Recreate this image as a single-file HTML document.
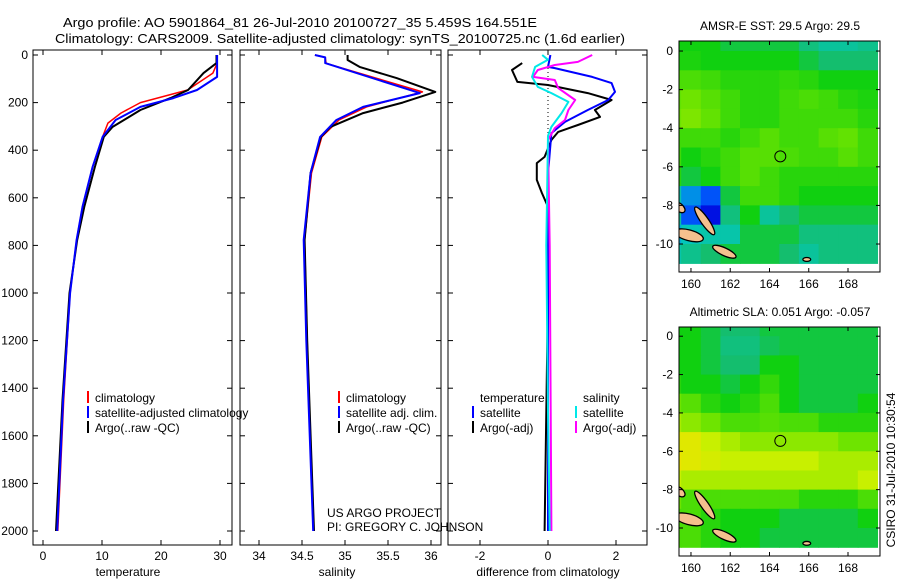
<!DOCTYPE html>
<html><head><meta charset="utf-8">
<style>
html,body{margin:0;padding:0;background:#fff;}
svg{display:block;font-family:"Liberation Sans",sans-serif;}
text{font-size:12px;fill:#000;}
</style></head>
<body>
<svg id="chart" width="900" height="580" viewBox="0 0 900 580" xmlns="http://www.w3.org/2000/svg">
<text x="300" y="27" text-anchor="middle" textLength="474" lengthAdjust="spacingAndGlyphs" style="font-size:13px">Argo profile: AO 5901864_81 26-Jul-2010 20100727_35 5.459S 164.551E</text>
<text x="340" y="43" text-anchor="middle" textLength="570" lengthAdjust="spacingAndGlyphs" style="font-size:13px">Climatology: CARS2009. Satellite-adjusted climatology: synTS_20100725.nc (1.6d earlier)</text>
<g id="plots"></g>
<text x="780" y="30" text-anchor="middle">AMSR-E SST: 29.5 Argo: 29.5</text>
<text x="780" y="316" text-anchor="middle">Altimetric SLA: 0.051 Argo: -0.057</text>
<text transform="translate(895,470) rotate(-90)" text-anchor="middle">CSIRO 31-Jul-2010 10:30:54</text>
<text x="327" y="517">US ARGO PROJECT</text>
<text x="327" y="531">PI: GREGORY C. JOHNSON</text>
</svg>
<script>
// ---------- profile data ----------
const tClimDepth = [0,35,76,147,200,244,286,344,470,638,777,1000,1450,2000];
const tClimVal   = [29.5,29.5,28.8,24.5,16.5,13.2,11,10.1,8.4,6.7,5.7,4.6,3.5,2.5];
const tSatDepth  = [0,92,147,181,218,273,344,470,638,777,1000,1450,2000];
const tSatVal    = [29.5,29.5,26.1,22.1,16.5,12.3,10.1,8.4,6.7,5.7,4.6,3.4,2.4];
const tArgoDepth = [0,34,76,147,181,231,302,344,470,638,777,1000,1450,2000];
const tArgoVal   = [29.4,29.4,27.2,24.6,21.6,16.5,11.8,10.3,8.8,7.0,5.8,4.5,3.3,2.2];

const sClimDepth = [0,10,35,155,218,273,344,496,777,1200,2000];
const sClimVal   = [34.65,34.77,34.78,35.9,35.25,34.93,34.73,34.61,34.53,34.56,34.63];
const sSatDepth  = [0,10,34,160,218,273,344,496,777,1200,2000];
const sSatVal    = [34.65,34.77,34.77,35.87,35.21,34.9,34.71,34.6,34.52,34.55,34.63];
const sArgoDepth = [0,21,50,97,155,200,244,302,344,496,777,1200,2000];
const sArgoVal   = [35.03,35.03,35.17,35.6,36.05,35.67,35.21,34.83,34.72,34.6,34.53,34.56,34.64];

const dTArgoDepth = [34,63,113,126,160,189,231,260,294,323,357,428,454,525,580,638,1000,1500,2000];
const dTArgoVal   = [-0.76,-1.06,-0.9,0,1.17,1.87,1.38,1.53,0.88,0.3,0.1,-0.1,-0.33,-0.33,-0.18,0,0,-0.05,-0.1];
const dTSatDepth  = [0,50,55,92,118,155,189,231,281,328,500,1000,1500,2000];
const dTSatVal    = [0.07,0,0.2,1.3,1.87,1.97,1.77,1.17,0.5,0.1,0.0,0.0,0.0,0.0];
const dSArgoDepth = [0,29,42,63,92,105,139,189,231,273,307,357,800,1500,2000];
const dSArgoVal   = [1.3,0.88,0.2,-0.3,-0.44,0.2,0.3,0.8,0.6,0.5,0.2,0.0,0.05,0.08,0.1];
const dSSatDepth  = [0,20,50,92,134,160,197,244,302,340,800,1500,2000];
const dSSatVal    = [-0.17,0,-0.38,-0.47,-0.3,0.1,0.6,0.4,0.1,0,-0.05,0.0,0.05];

const depthTicks = [0,200,400,600,800,1000,1200,1400,1600,1800,2000];
const tempTicks = [0,10,20,30];
const salTicks = [34,34.5,35,35.5,36];
const salTickLabels = ["34","34.5","35","35.5","36"];
const diffTicks = [-2,0,2];
const diffTickLabels = ["-2","0","2"];

// ---------- map data (1-degree cells, colormap index) ----------
const mapLons = [159,160,161,162,163,164,165,166,167,168,169];
const mapLats = [0.5,-0.5,-1.5,-2.5,-3.5,-4.5,-5.5,-6.5,-7.5,-8.5,-9.5,-10.5];
const sstGrid = [
[.50,.50,.50,.48,.48,.48,.48,.45,.43,.43,.44],
[.51,.51,.50,.50,.50,.50,.50,.48,.46,.46,.46],
[.55,.55,.54,.52,.52,.52,.53,.52,.50,.50,.50],
[.57,.58,.56,.54,.52,.52,.54,.55,.54,.52,.51],
[.58,.59,.57,.54,.52,.52,.54,.54,.54,.54,.52],
[.54,.54,.54,.52,.54,.56,.54,.54,.56,.57,.54],
[.54,.50,.52,.54,.56,.56,.55,.54,.54,.56,.54],
[.52,.48,.50,.54,.56,.54,.52,.52,.52,.52,.52],
[.42,.36,.32,.48,.54,.54,.52,.50,.50,.50,.50],
[.43,.32,.28,.45,.50,.43,.46,.48,.48,.48,.48],
[.38,.41,.42,.42,.48,.48,.48,.45,.45,.45,.45],
[.42,.44,.46,.48,.48,.48,.46,.43,.45,.45,.45]];
const slaGrid = [
[.50,.50,.48,.46,.46,.48,.48,.48,.48,.48,.48],
[.50,.50,.48,.45,.45,.47,.48,.48,.48,.48,.48],
[.50,.50,.48,.46,.46,.50,.50,.48,.48,.48,.48],
[.52,.50,.50,.48,.50,.53,.50,.48,.48,.48,.48],
[.58,.56,.52,.50,.52,.55,.50,.48,.48,.48,.50],
[.62,.60,.58,.55,.55,.56,.55,.55,.52,.52,.52],
[.68,.68,.64,.62,.60,.60,.60,.60,.60,.58,.58],
[.70,.68,.66,.64,.64,.64,.64,.64,.62,.62,.62],
[.64,.62,.62,.62,.62,.62,.62,.62,.62,.62,.64],
[.58,.55,.55,.55,.55,.55,.55,.52,.52,.52,.55],
[.55,.55,.52,.50,.50,.50,.48,.48,.48,.48,.50],
[.55,.55,.52,.50,.50,.48,.48,.48,.48,.48,.48]];
const islandLon = [159.9,160.7,161.7,159.4,165.9];
const islandLat = [-9.55,-8.8,-10.4,-8.1,-10.8];
const islandLen = [0.75,0.85,0.65,0.35,0.2];
const islandWid = [0.28,0.2,0.2,0.2,0.1];
const islandRot = [15,55,25,40,0];
const floatLon = 164.551, floatLat = -5.459;
const mapLonTicks = [160,162,164,166,168];
const mapLatTicks = [0,-2,-4,-6,-8,-10];
const mapLatTickLabels = ["0","-2","-4","-6","-8","-10"];

// ---------- drawing ----------
const NS = "http://www.w3.org/2000/svg";
const root = document.getElementById('plots');
function mk(tag, attrs, parent){ const e=document.createElementNS(NS,tag); for(const k in attrs) e.setAttribute(k,attrs[k]); (parent||root).appendChild(e); return e; }

const TOP=50, BOT=545;
function yDepth(d){ return 55 + d/2000*476; }

const panels = [
 {name:'temperature', x0:33, x1:232, sx:v=>43+v*5.9, ticks:tempTicks, labels:tempTicks.map(String), xlabel:'temperature', lx:128},
 {name:'salinity', x0:240, x1:441, sx:v=>259+(v-34)*86, ticks:salTicks, labels:salTickLabels, xlabel:'salinity', lx:337},
 {name:'difference', x0:448, x1:647, sx:v=>548+v*34, ticks:diffTicks, labels:diffTickLabels, xlabel:'difference from climatology', lx:548}
];

function line(p, depths, vals, color, w, nm){
  const pts = depths.map((d,i)=>p.sx(vals[i]).toFixed(1)+','+yDepth(d).toFixed(1)).join(' ');
  const el = mk('polyline',{points:pts,fill:'none',stroke:color,'stroke-width':w,'stroke-linejoin':'round'});
  
  
}

panels.forEach((p,pi)=>{
  const g = mk('g',{});
  
  
  const r = mk('rect',{x:p.x0,y:TOP,width:p.x1-p.x0,height:BOT-TOP,fill:'none',stroke:'#000','stroke-width':1},g);
  
  
  depthTicks.forEach(d=>{
    const y=yDepth(d);
    mk('line',{x1:p.x0,x2:p.x0+5,y1:y,y2:y,stroke:'#000'},g);
    mk('line',{x1:p.x1,x2:p.x1-5,y1:y,y2:y,stroke:'#000'},g);
    if(pi===0){
      const t=mk('text',{x:28,y:y+4,'text-anchor':'end'},g); t.textContent=String(d);
      
      
    }
  });
  p.ticks.forEach((v,i)=>{
    const x=p.sx(v);
    mk('line',{x1:x,x2:x,y1:TOP,y2:TOP+5,stroke:'#000'},g);
    mk('line',{x1:x,x2:x,y1:BOT,y2:BOT-5,stroke:'#000'},g);
    const t=mk('text',{x:x,y:560,'text-anchor':'middle'},g); t.textContent=p.labels[i];
    
    
  });
  const xl=mk('text',{x:p.lx,y:576,'text-anchor':'middle'},g); xl.textContent=p.xlabel;
  
  
});

const P0=panels[0],P1=panels[1],P2=panels[2];
line(P0,tClimDepth,tClimVal,'#ff0000',1.5,'temperature-climatology-line');
line(P0,tArgoDepth,tArgoVal,'#000',2,'temperature-argo-line');
line(P0,tSatDepth,tSatVal,'#0000ff',2,'temperature-satellite-line');
line(P1,sClimDepth,sClimVal,'#ff0000',1.5,'salinity-climatology-line');
line(P1,sArgoDepth,sArgoVal,'#000',2,'salinity-argo-line');
line(P1,sSatDepth,sSatVal,'#0000ff',2,'salinity-satellite-line');
const zl = mk('line',{x1:548,x2:548,y1:60,y2:140,stroke:'#000','stroke-dasharray':'1,3'});


line(P2,dTArgoDepth,dTArgoVal,'#000',2,'temp-diff-argo-line');
line(P2,dTSatDepth,dTSatVal,'#0000ff',2,'temp-diff-satellite-line');
line(P2,dSArgoDepth,dSArgoVal,'#ff00ff',2,'sal-diff-argo-line');
line(P2,dSSatDepth,dSSatVal,'#00e8e8',2,'sal-diff-satellite-line');

// legends
function legend(x, y, color, label, nm){
  const g=mk('g',{});
  
  
  if(color) mk('rect',{x:x,y:y-9,width:2,height:12,fill:color},g);
  const t=mk('text',{x:x+8,y:y+2},g); t.textContent=label;
}
legend(87,400,'#ff0000','climatology','legend-climatology');
legend(87,415,'#0000ff','satellite-adjusted climatology','legend-satellite-adjusted');
legend(87,430,'#000','Argo(..raw -QC)','legend-argo-raw');
legend(338,400,'#ff0000','climatology','legend-sal-climatology');
legend(338,415,'#0000ff','satellite adj. clim.','legend-sal-satellite');
legend(338,430,'#000','Argo(..raw -QC)','legend-sal-argo');
legend(472,400,null,'temperature','legend-temperature-header');
legend(472,415,'#0000ff','satellite','legend-temp-satellite');
legend(472,430,'#000','Argo(-adj)','legend-temp-argo');
legend(575,400,null,'salinity','legend-salinity-header');
legend(575,415,'#00e8e8','satellite','legend-sal-diff-satellite');
legend(575,430,'#ff00ff','Argo(-adj)','legend-sal-diff-argo');

// colormap
const cmapStops=[[0.20,[0,0,140]],[0.27,[0,0,220]],[0.33,[0,100,255]],[0.40,[0,200,200]],[0.46,[20,190,110]],[0.50,[16,208,16]],[0.58,[110,228,0]],[0.64,[200,240,0]],[0.72,[248,224,0]]];
function cmap(v){
  if(v<=cmapStops[0][0]) return 'rgb('+cmapStops[0][1]+')';
  for(let i=1;i<cmapStops.length;i++){
    if(v<=cmapStops[i][0]){
      const a=cmapStops[i-1],b=cmapStops[i],f=(v-a[0])/(b[0]-a[0]);
      return 'rgb('+a[1].map((c,k)=>Math.round(c+(b[1][k]-c)*f)).join(',')+')';
    }
  }
  return 'rgb('+cmapStops[cmapStops.length-1][1]+')';
}

function drawMap(cfg){
  const {x0,x1,y0,y1,lonL,lonR,latT,latB,grid,nm}=cfg;
  const sx=lon=>x0+(lon-lonL)/(lonR-lonL)*(x1-x0);
  const sy=lat=>y0+(latT-lat)/(latT-latB)*(y1-y0);
  const g=mk('g',{});
  
  
  const cid='clip-'+nm;
  const cp=mk('clipPath',{id:cid},g); mk('rect',{x:x0,y:y0,width:x1-x0,height:y1-y0},cp);
  const cg=mk('g',{'clip-path':'url(#'+cid+')'},g);
  grid.forEach((row,ri)=>row.forEach((v,ci)=>{
    const lon=mapLons[ci], lat=mapLats[ri];
    const c=mk('rect',{x:sx(lon-0.5).toFixed(1),y:sy(lat+0.5).toFixed(1),width:(sx(lon+0.5)-sx(lon-0.5)+0.6).toFixed(1),height:(sy(lat-0.5)-sy(lat+0.5)+0.6).toFixed(1),fill:cmap(v)},cg);
    
    
  }));
  islandLon.forEach((lon,i)=>{
    const cx=sx(lon), cy=sy(islandLat[i]);
    const rx=(sx(lon+islandLen[i])-cx), ry=(sy(islandLat[i]-islandWid[i])-cy);
    const e=mk('ellipse',{cx:cx,cy:cy,rx:rx,ry:ry,fill:'#f5c08e',stroke:'#000','stroke-width':1.3,transform:'rotate('+islandRot[i]+' '+cx+' '+cy+')'},cg);
    
    
  });
  const fc=mk('circle',{cx:sx(floatLon),cy:sy(floatLat),r:5.5,fill:'none',stroke:'#000','stroke-width':1},g);
  
  
  mk('rect',{x:x0,y:y0,width:x1-x0,height:y1-y0,fill:'none',stroke:'#000'},g);
  mapLonTicks.forEach(lon=>{
    const x=sx(lon);
    mk('line',{x1:x,x2:x,y1:y0,y2:y0+4,stroke:'#000'},g);
    mk('line',{x1:x,x2:x,y1:y1,y2:y1-4,stroke:'#000'},g);
    const t=mk('text',{x:x,y:y1+16,'text-anchor':'middle'},g); t.textContent=String(lon);
    
    
  });
  mapLatTicks.forEach((lat,i)=>{
    const y=sy(lat);
    mk('line',{x1:x0,x2:x0+4,y1:y,y2:y,stroke:'#000'},g);
    mk('line',{x1:x1,x2:x1-4,y1:y,y2:y,stroke:'#000'},g);
    const t=mk('text',{x:x0-6,y:y+4,'text-anchor':'end'},g); t.textContent=mapLatTickLabels[i];
    
    
  });
}
drawMap({x0:679,x1:880,y0:41,y1:272,lonL:159.39,lonR:169.63,latT:0.52,latB:-11.45,grid:sstGrid,nm:'sst-map'});
drawMap({x0:679,x1:880,y0:327,y1:556,lonL:159.39,lonR:169.63,latT:0.48,latB:-11.46,grid:slaGrid,nm:'sla-map'});
</script>
</body></html>
